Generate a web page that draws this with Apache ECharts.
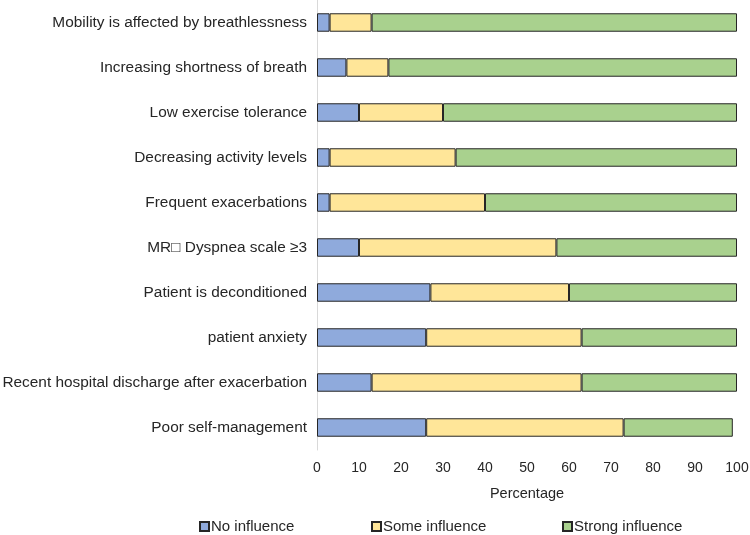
<!DOCTYPE html>
<html><head><meta charset="utf-8">
<script src="https://cdn.jsdelivr.net/npm/echarts@6/dist/echarts.min.js"></script>
<style>html,body{margin:0;padding:0;background:#fff}#c{width:750px;height:535px}</style>
</head><body><div id="c"></div>
<script>
const categories = [
  "Mobility is affected by breathlessness",
  "Increasing shortness of breath",
  "Low exercise tolerance",
  "Decreasing activity levels",
  "Frequent exacerbations",
  "MR\u25A1 Dyspnea scale \u22653",
  "Patient is deconditioned",
  "patient anxiety",
  "Recent hospital discharge after exacerbation",
  "Poor self-management"
];
const noInfluence     = [3, 7, 10, 3, 3, 10, 27, 26, 13, 26];
const someInfluence   = [10, 10, 20, 30, 37, 47, 33, 37, 50, 47];
const strongInfluence = [87, 83, 70, 67, 60, 43, 40, 37, 37, 26];
const xTicks = [0, 10, 20, 30, 40, 50, 60, 70, 80, 90, 100];

const font = "'Liberation Sans', Arial, sans-serif";
const colors = ['#8faadc', '#ffe699', '#a9d18e'];
const names = ['No influence', 'Some influence', 'Strong influence'];
const datas = [noInfluence, someInfluence, strongInfluence];

const chart = echarts.init(document.getElementById('c'));
const legendLefts = [194, 366, 557];
chart.setOption({
  animation: false,
  color: colors,
  grid: { left: 317, right: 13, top: 0, bottom: 85, containLabel: false, outerBoundsMode: 'none' },
  xAxis: {
    type: 'value', min: xTicks[0], max: xTicks[xTicks.length - 1], interval: 10,
    name: 'Percentage', nameLocation: 'middle', nameGap: 36,
    nameTextStyle: { color: '#262626', fontSize: 14.5, fontFamily: font },
    axisLine: { show: false }, axisTick: { show: false }, splitLine: { show: false },
    axisLabel: { color: '#262626', fontSize: 14, fontFamily: font, margin: 11 }
  },
  yAxis: {
    type: 'category', data: categories, inverse: true,
    axisLine: { show: true, lineStyle: { color: '#d9d9d9', width: 1 } },
    axisTick: { show: false },
    axisLabel: { color: '#262626', fontSize: 15.4, fontFamily: font, margin: 10 }
  },
  legend: names.map((n, i) => ({
    data: [n], left: legendLefts[i], top: 514, itemWidth: 9, itemHeight: 9, itemGap: 0,
    textStyle: { color: '#262626', fontSize: 15, fontFamily: font, padding: [0, 0, 0, -3] },
    icon: 'rect'
  })),
  series: names.map((n, i) => ({
    name: n, type: 'bar', stack: 'total', data: datas[i], barWidth: '41%',
    itemStyle: { color: colors[i], borderColor: '#262626', borderWidth: 1 }
  }))
});
</script></body></html>
